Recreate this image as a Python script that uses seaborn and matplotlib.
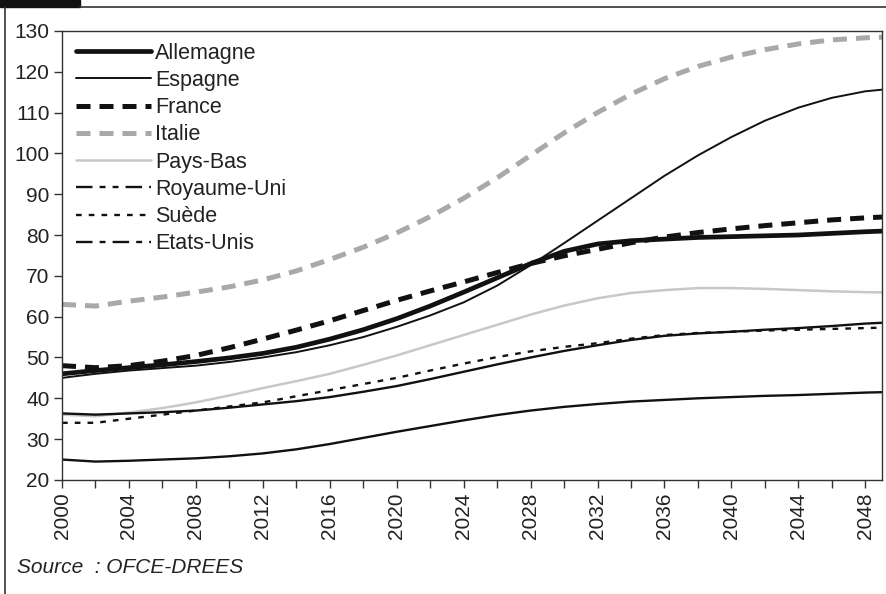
import numpy as np
import pandas as pd
import seaborn as sns
import matplotlib.pyplot as plt
from matplotlib.lines import Line2D
from matplotlib.patches import Rectangle

# Years (every 2 years) and values
years = list(range(2000, 2051, 2))

allemagne = [46.0, 46.8, 47.5, 48.2, 49.0, 49.9, 51.0, 52.5, 54.5, 56.8, 59.5, 62.6, 66.0, 69.5, 73.0, 76.0,
             77.8, 78.6, 79.0, 79.4, 79.6, 79.8, 80.0, 80.4, 80.8, 81.1]
espagne = [45.0, 46.0, 46.8, 47.4, 48.0, 48.9, 50.0, 51.3, 53.0, 55.0, 57.5, 60.3, 63.5, 67.6, 72.6, 78.0,
           83.5, 89.0, 94.5, 99.5, 104.0, 108.0, 111.2, 113.6, 115.2, 116.0]
france = [48.0, 47.5, 48.0, 49.1, 50.5, 52.4, 54.5, 56.7, 59.0, 61.5, 64.0, 66.3, 68.5, 70.8, 73.0, 74.9,
          76.5, 78.1, 79.5, 80.6, 81.5, 82.3, 83.0, 83.7, 84.2, 84.6]
italie = [63.0, 62.6, 63.8, 64.8, 66.0, 67.3, 69.0, 71.2, 74.0, 77.0, 80.5, 84.5, 89.0, 94.0, 99.5, 105.0,
          110.0, 114.5, 118.3, 121.3, 123.6, 125.4, 126.8, 127.8, 128.3, 128.6]
pays_bas = [36.0, 35.6, 36.5, 37.6, 39.0, 40.7, 42.5, 44.2, 46.0, 48.2, 50.5, 53.0, 55.5, 58.0, 60.5, 62.7,
            64.5, 65.8, 66.5, 67.0, 67.0, 66.8, 66.5, 66.2, 66.0, 65.9]
royaume_uni = [36.3, 36.0, 36.3, 36.6, 37.0, 37.7, 38.5, 39.3, 40.3, 41.6, 43.0, 44.7, 46.5, 48.3, 50.0, 51.6,
               53.0, 54.3, 55.3, 55.9, 56.3, 56.8, 57.2, 57.7, 58.3, 58.7]
suede = [34.0, 34.0, 35.0, 36.0, 37.0, 38.0, 39.0, 40.5, 42.0, 43.5, 45.0, 46.8, 48.5, 50.1, 51.5, 52.6,
         53.5, 54.6, 55.5, 56.0, 56.3, 56.6, 56.8, 57.0, 57.2, 57.4]
etats_unis = [25.0, 24.5, 24.7, 25.0, 25.3, 25.8, 26.5, 27.5, 28.8, 30.3, 31.8, 33.2, 34.6, 35.9, 37.0, 37.9,
              38.6, 39.2, 39.6, 40.0, 40.3, 40.6, 40.8, 41.1, 41.4, 41.6]

countries = ["Allemagne", "Espagne", "France", "Italie", "Pays-Bas", "Royaume-Uni", "Suède", "Etats-Unis"]
series = [allemagne, espagne, france, italie, pays_bas, royaume_uni, suede, etats_unis]

df = pd.concat([pd.DataFrame({"annee": years, "valeur": v, "pays": c}) for c, v in zip(countries, series)])

# plot styles: (color, linewidth, dashes in plot, dashes in legend)
styles = {
    "Allemagne": ("#111111", 3.4, None, None),
    "Espagne": ("#111111", 1.4, None, None),
    "France": ("#111111", 3.6, (2.8, 1.8), (2.8, 1.8)),
    "Italie": ("#a7a9ac", 3.6, (2.8, 1.8), (2.8, 1.8)),
    "Pays-Bas": ("#c8c8c8", 1.8, None, None),
    "Royaume-Uni": ("#111111", 1.7, None, (7, 3, 2.5, 3, 2.5, 3)),
    "Suède": ("#111111", 1.7, (2.4, 3.0), (2.4, 3.0)),
    "Etats-Unis": ("#111111", 1.7, None, (7, 3, 2.5, 3)),
}

sns.set_style("white")
plt.rcParams["font.family"] = ["Liberation Sans", "DejaVu Sans"]

fig = plt.figure(figsize=(8.86, 5.94), dpi=100)
ax = fig.add_axes([0.070, 0.192, 0.9255, 0.756])

for c in countries:
    col, lw, dash, _ = styles[c]
    sub = df[df["pays"] == c]
    line = sns.lineplot(data=sub, x="annee", y="valeur", ax=ax, color=col, linewidth=lw,
                        legend=False).lines[-1]
    if dash is not None:
        line.set_dashes(dash)
        line.set_dash_capstyle("butt")

ax.set_xlim(2000, 2049)
ax.set_ylim(20, 130)
ax.set_yticks(range(20, 131, 10))
ax.set_xticks(range(2000, 2049, 4))
ax.set_xticks(range(2000, 2049, 2), minor=True)
ax.tick_params(axis="x", which="both", direction="out", length=6, width=1, color="#333333",
               labelrotation=90, labelsize=15, labelcolor="#222222", bottom=True, pad=3)
ax.tick_params(axis="y", direction="out", length=6, width=1, color="#333333", labelsize=15,
               labelcolor="#222222", left=True, pad=3)
ax.set_xlabel("")
ax.set_ylabel("")
for s in ax.spines.values():
    s.set_color("#333333")
    s.set_linewidth(1.0)

handles = []
for c in countries:
    col, lw, _, ldash = styles[c]
    h = Line2D([0], [0], color=col, linewidth=lw)
    if ldash is not None:
        h.set_dashes(ldash)
        h.set_dash_capstyle("butt")
    handles.append(h)
ax.legend(handles, countries, loc="upper left", bbox_to_anchor=(0.002, 1.0), frameon=False,
          fontsize=15.5, handlelength=3.5, handletextpad=0.2, labelspacing=0.29, borderaxespad=0.15,
          labelcolor="#222222")

fig.text(0.019, 0.035, "Source  : OFCE-DREES", fontsize=15, style="italic", color="#222222")

# outer frame and black tab in the top-left corner
fig.add_artist(Line2D([0.0055, 0.0055], [0.0, 0.988], transform=fig.transFigure, color="#333333", lw=1.2))
fig.add_artist(Line2D([0.09, 1.0], [0.988, 0.988], transform=fig.transFigure, color="#333333", lw=1.2))
fig.add_artist(Rectangle((0.0, 0.988), 0.09, 0.012, transform=fig.transFigure, color="#111111"))

fig.savefig("out.png", dpi=100)
